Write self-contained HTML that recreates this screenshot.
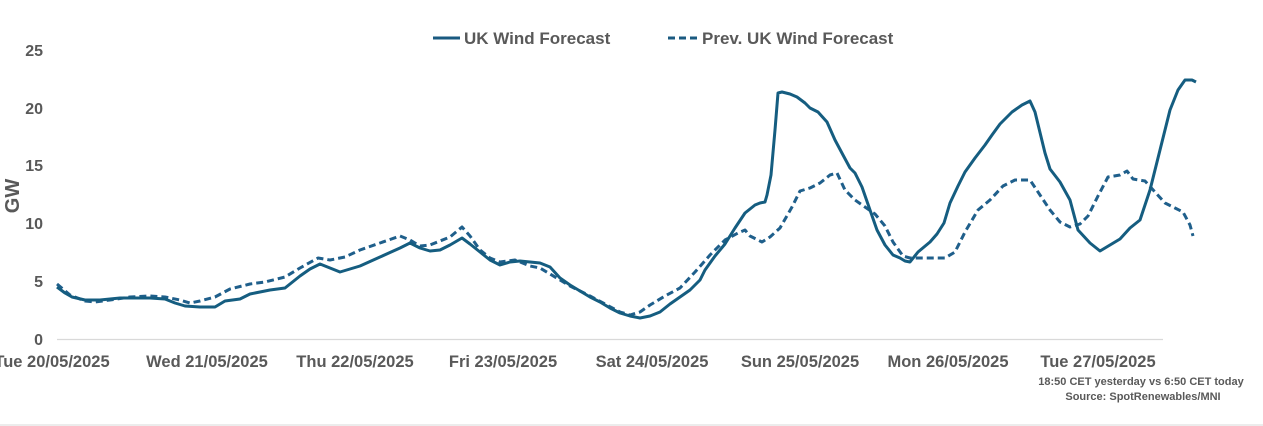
<!DOCTYPE html>
<html><head><meta charset="utf-8"><style>
html,body{margin:0;padding:0;background:#fff;width:1263px;height:426px;overflow:hidden}
svg text{font-family:"Liberation Sans",sans-serif;font-weight:bold;fill:#595959}
</style></head><body>
<svg width="1263" height="426" viewBox="0 0 1263 426" xmlns="http://www.w3.org/2000/svg">
<line x1="0" y1="425" x2="1263" y2="425" stroke="#d9d9d9" stroke-width="1"/>
<line x1="57" y1="339.5" x2="1163" y2="339.5" stroke="#d9d9d9" stroke-width="1.3"/>
<g font-size="16" text-anchor="end">
<text x="43" y="345">0</text><text x="43" y="287">5</text><text x="43" y="229">10</text>
<text x="43" y="171">15</text><text x="43" y="114">20</text><text x="43" y="56">25</text>
</g>
<text transform="translate(19,196) rotate(-90)" font-size="20" text-anchor="middle">GW</text>
<g font-size="16.5" text-anchor="middle">
<text x="52" y="367">Tue 20/05/2025</text><text x="207" y="367">Wed 21/05/2025</text>
<text x="355" y="367">Thu 22/05/2025</text><text x="503" y="367">Fri 23/05/2025</text>
<text x="652" y="367">Sat 24/05/2025</text><text x="800" y="367">Sun 25/05/2025</text>
<text x="948" y="367">Mon 26/05/2025</text><text x="1098" y="367">Tue 27/05/2025</text>
</g>
<g font-size="11" text-anchor="middle">
<text x="1141" y="385">18:50 CET yesterday vs  6:50 CET today</text>
<text x="1143" y="400">Source: SpotRenewables/MNI</text>
</g>
<line x1="433" y1="38" x2="460" y2="38" stroke="#1a5a80" stroke-width="3"/>
<text x="464" y="44" font-size="17">UK Wind Forecast</text>
<line x1="668" y1="38" x2="698" y2="38" stroke="#1a5a80" stroke-width="3" stroke-dasharray="7,4"/>
<text x="702" y="44" font-size="17">Prev. UK Wind Forecast</text>
<polyline fill="none" stroke="#1f5f8b" stroke-width="3" stroke-dasharray="7,4" stroke-linejoin="round" points="57,284 70,295 85,301 95,302 110,300 130,297 150,296 165,297 180,300 190,303 200,301 215,297 230,289 250,284 265,282 285,277 300,268 318,258 330,260 345,257 360,250 380,243 400,236 410,240 420,246 430,245 450,237 462,227 470,236 480,250 490,258 500,262 515,260 530,266 540,268 550,274 570,286 590,296 605,304 620,312 630,315 640,312 650,305 665,296 680,288 695,272 710,255 725,240 738,233 745,230 750,236 762,242 770,237 780,228 792,207 800,191 810,188 820,183 830,175 837,173 845,190 855,200 865,207 875,214 885,226 893,242 903,256 910,258 925,258 945,258 955,252 965,232 978,210 990,200 1003,186 1015,180 1030,180 1040,195 1050,210 1060,222 1070,227 1080,224 1088,216 1098,196 1108,177 1120,175 1127,171 1133,179 1145,181 1155,192 1165,203 1175,208 1183,212 1190,225 1193,236"/>
<polyline fill="none" stroke="#155d80" stroke-width="3" stroke-linejoin="round" points="57,287 65,293 72,297 85,300 100,300 120,298 150,298 165,299 175,303 185,306 200,307 215,307 225,301 240,299 250,294 270,290 285,288 300,276 310,269 320,264 330,268 340,272 350,269 360,266 380,257 400,248 410,243 420,248 430,251 440,250 450,245 462,238 470,244 480,252 490,260 500,265 510,262 520,261 540,263 550,267 560,278 570,285 580,291 590,297 600,302 610,308 620,313 630,316 640,318 650,316 660,312 670,304 680,297 690,290 700,280 705,270 715,256 725,244 735,228 745,213 755,205 760,203 765,202 767,195 771,175 775,130 778,93 782,92 790,94 797,97 805,103 810,108 818,112 827,122 835,140 843,155 850,168 855,173 862,187 870,210 877,230 885,245 893,255 900,258 905,261 910,262 918,252 930,242 937,234 944,223 950,203 958,186 965,172 975,158 985,145 992,135 1000,124 1012,112 1022,105 1030,101 1035,112 1045,153 1050,169 1060,182 1070,200 1078,230 1090,243 1100,251 1110,245 1120,239 1130,228 1140,220 1150,190 1160,150 1170,110 1178,90 1185,80 1192,80 1196,82"/>
</svg>
</body></html>
